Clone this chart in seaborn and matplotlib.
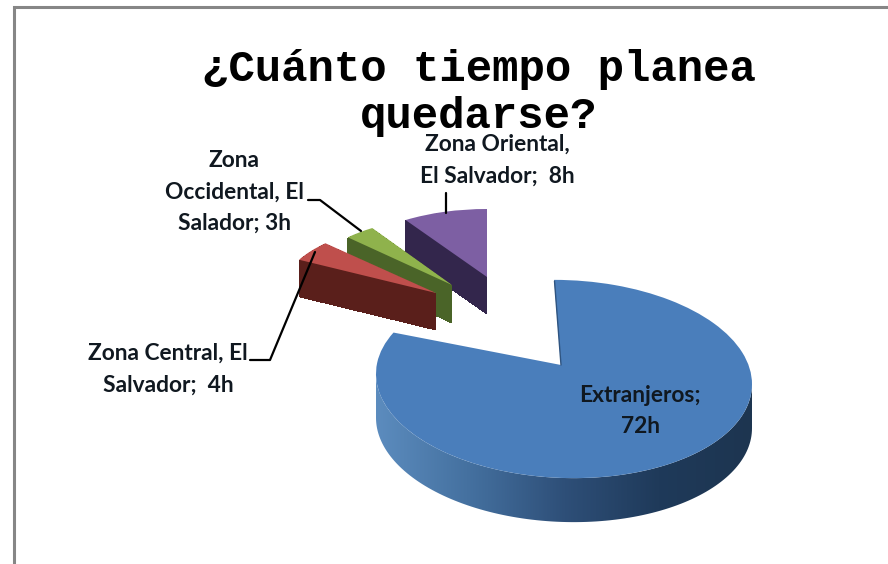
"""Exploded 3D-look pie of planned stay, built from stacked ax.pie layers."""
import matplotlib
matplotlib.use("Agg")
import matplotlib.pyplot as plt
import numpy as np
import seaborn as sns
from matplotlib.patches import PathPatch, Polygon
from matplotlib.path import Path as MplPath
from matplotlib.transforms import Affine2D

TITLE = "¿Cuánto tiempo planea\nquedarse?"
ZONES = ["Extranjeros", "Zona Central, El Salvador", "Zona Occidental, El Salador", "Zona Oriental, El Salvador"]
HOURS = [72, 4, 3, 8]
LABELS = ["Extranjeros;\n72h", "Zona Central, El\nSalvador;  4h", "Zona\nOccidental, El\nSalador; 3h",
          "Zona Oriental,\nEl Salvador;  8h"]

TOP_COLORS = ["#4A7EBB", "#BF4F4C", "#8FB24C", "#7D5FA3"]
SIDE_COLORS = ["#2F5480", "#5A1F1B", "#4A6428", "#33264C"]
RIM_COLORS = ["#5C8CBE", "#44709F", "#2E4F78", "#1F3A5A", "#1D3550"]

# pixel layout: centre x, centre y, radius x, radius y, depth, rotation, skew, draw order
GEOM = [
    (564, 379, 188, 99, 0, 3, -3, 1),
    (436, 293, 155, 71, 37, 0, 0, 4),
    (452, 285, 146, 68, 38, 0, 0, 3),
    (487, 277, 149, 68, 37, 0, 0, 2),
]
BLUE_APEX = (561, 365)
LABEL_POS = [(640, 411), (168, 369), (234, 192), (497, 160)]
LEADERS = [
    ([250, 270, 315], [360, 360, 252]),
    ([308, 320, 361], [200, 200, 231]),
    ([446, 446], [193, 213]),
]


def placement(i, shift=0):
    cx, cy, rx, ry, _, rot, skew, _ = GEOM[i]
    return Affine2D().rotate_deg(rot).skew_deg(0, skew).scale(rx, -ry).translate(cx, cy + shift)


def main() -> None:
    sns.set_theme(style="white")
    plt.rcParams["font.family"] = ["Lato", "DejaVu Sans"]

    fig = plt.figure(figsize=(8.88, 5.64), dpi=100, facecolor="white")
    ax = fig.add_axes([0, 0, 1, 1])

    # side faces of the small slices: stacked copies of the pie, deepest first
    for d in range(max(g[4] for g in GEOM), 0, -1):
        wedges, _ = ax.pie(HOURS, startangle=90, counterclock=False, colors=sns.color_palette(SIDE_COLORS),
                           wedgeprops={"linewidth": 0, "antialiased": False})
        for i, w in enumerate(wedges):
            if d > GEOM[i][4]:
                w.remove()
                continue
            w.set_transform(placement(i, d) + ax.transData)
            w.set_zorder(GEOM[i][7] + (GEOM[i][4] - d) * 0.001)

    # top faces
    wedges, _ = ax.pie(HOURS, startangle=90, counterclock=False, colors=sns.color_palette(TOP_COLORS),
                       wedgeprops={"linewidth": 0})
    for i, w in enumerate(wedges):
        w.set_transform(placement(i) + ax.transData)
        w.set_zorder(GEOM[i][7] + 0.5)

    # the big slice's apex sits above the centre of its arc
    big = wedges[0]
    path = big.get_path()
    verts = path.vertices.copy()
    near_centre = np.hypot(verts[:, 0], verts[:, 1]) < 0.2
    apex = placement(0).inverted().transform(BLUE_APEX)
    verts[near_centre] = apex
    big.remove()
    ax.add_patch(PathPatch(MplPath(verts, path.codes), facecolor=TOP_COLORS[0], linewidth=0, zorder=1.5,
                           transform=placement(0) + ax.transData))
    ax.plot([554.5, 561], [281, 365], color="#2F5480", lw=1.0, zorder=1.6)

    # rim of the big slice with a left-to-right shade
    cx, cy, rx, ry = GEOM[0][:4]
    depth = 44
    t = np.radians(np.linspace(90, 270, 120))
    rim_edge = Affine2D().skew_deg(0, GEOM[0][6]).scale(rx, -ry).translate(cx, cy).transform(
        np.c_[np.sin(t), np.cos(t)])
    outline = np.r_[rim_edge, (rim_edge + [0, depth])[::-1]]
    rim_cmap = sns.blend_palette(RIM_COLORS[::-1], as_cmap=True)
    im = ax.imshow(np.linspace(0, 1, 256)[None, :][:, ::-1], cmap=rim_cmap, aspect="auto",
                   extent=(cx - rx, cx + rx, cy + ry + depth + 15, cy - 15), zorder=1)
    im.set_clip_path(Polygon(outline, closed=True, transform=ax.transData))

    ax.set_aspect("auto")
    ax.set_xlim(0, 888)
    ax.set_ylim(564, 0)
    ax.axis("off")

    # frame of the original chart area, running off the right and bottom edges
    ax.plot([14, 14, 888], [564, 7, 7], color="#868686", lw=2.2, zorder=0.5, solid_joinstyle="miter")

    for xs, ys in LEADERS:
        ax.plot(xs, ys, color="black", lw=1.6, zorder=6)

    for text, (x, y) in zip(LABELS, LABEL_POS):
        ax.text(x, y, text, ha="center", va="center", fontsize=16.4, fontweight="bold", color="#101820",
                linespacing=1.62, zorder=7)

    ax.text(479, 93, TITLE, ha="center", va="center", family="Liberation Mono", fontsize=31.7,
            fontweight="bold", color="black", linespacing=1.2, zorder=8)

    fig.savefig("out.png", dpi=100, facecolor="white")
    plt.close(fig)


if __name__ == "__main__":
    main()
